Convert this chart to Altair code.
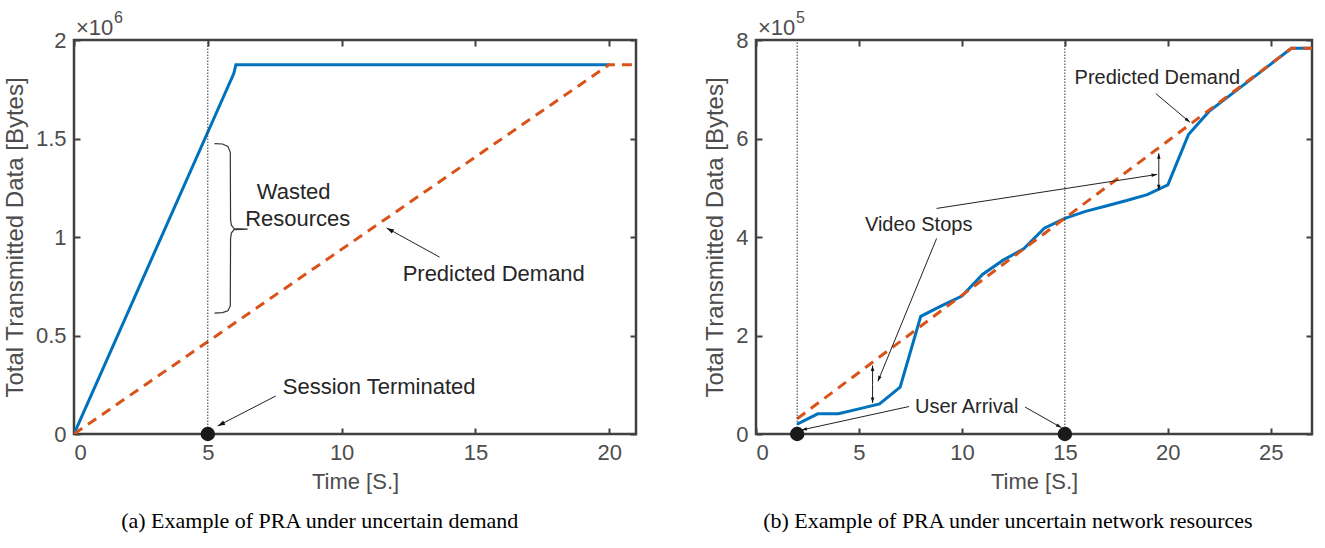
import math
import altair as alt
import pandas as pd

# ---------------- data ----------------
# (a) uncertain demand
a_time = [0, 5.97, 6.05, 20]
a_sent = [0, 1.83e6, 1.875e6, 1.875e6]
a_pred_time = [0, 20, 21]
a_pred = [0, 1.875e6, 1.875e6]
a_xticks = [0, 5, 10, 15, 20]
a_yticks = [0, 0.5e6, 1.0e6, 1.5e6, 2.0e6]
a_event_x = [5]

# (b) uncertain network resources
b_time = [2, 3, 4, 5, 6, 7, 8, 9, 10, 11, 12, 13, 14, 15, 16, 17, 18, 19, 20, 21, 22, 23, 24, 25, 26, 27]
b_sent = [0.20e5, 0.41e5, 0.41e5, 0.51e5, 0.61e5, 0.95e5, 2.39e5, 2.60e5, 2.80e5, 3.24e5, 3.53e5,
          3.76e5, 4.18e5, 4.38e5, 4.52e5, 4.63e5, 4.74e5, 4.86e5, 5.06e5, 6.08e5, 6.55e5, 6.87e5,
          7.19e5, 7.51e5, 7.83e5, 7.83e5]
b_pred_time = [2, 26, 27]
b_pred = [0.31e5, 7.83e5, 7.83e5]
b_xticks = [0, 5, 10, 15, 20, 25]
b_yticks = [0, 2e5, 4e5, 6e5, 8e5]
b_event_x = [2, 15]

# annotations (data coordinates)
a_text = ["Wasted", "Resources", "Predicted Demand", "Session Terminated"]
a_text_x = [8.21, 8.36, 12.28, 7.8]
a_text_y = [1.228e6, 1.091e6, 0.812e6, 0.239e6]
a_text_align = ["center", "center", "left", "left"]
a_arrow_x0 = [13.66, 7.54]
a_arrow_y0 = [0.898e6, 0.193e6]
a_arrow_x1 = [11.68, 5.37]
a_arrow_y1 = [1.046e6, 0.041e6]
a_brace_x = [5.25, 5.55, 5.75, 5.84, 5.85, 5.88, 5.98, 6.49, 5.98, 5.88, 5.85, 5.84, 5.75, 5.55, 5.25]
a_brace_y = [1.474e6, 1.472e6, 1.46e6, 1.43e6, 1.09e6, 1.06e6, 1.043e6, 1.040e6, 1.037e6, 1.02e6,
             0.99e6, 0.65e6, 0.625e6, 0.616e6, 0.614e6]

b_text = ["Predicted Demand", "Video Stops", "User Arrival"]
b_text_x = [15.47, 5.29, 7.72]
b_text_y = [7.22e5, 4.24e5, 0.548e5]
b_text_align = ["left", "left", "left"]
b_arrow_x0 = [19.42, 8.77, 8.77, 7.43, 13.06, 5.66, 5.66, 19.56, 19.56]
b_arrow_y0 = [6.91e5, 3.97e5, 4.58e5, 0.558e5, 0.548e5, 1.0e5, 1.0e5, 5.32e5, 5.32e5]
b_arrow_x1 = [21.07, 5.92, 19.47, 2.21, 14.83, 5.66, 5.66, 19.56, 19.56]
b_arrow_y1 = [6.33e5, 1.07e5, 5.27e5, 0.081e5, 0.13e5, 1.39e5, 0.63e5, 5.70e5, 4.95e5]

# ---------------- style ----------------
W1, W2, H = 562, 556, 394
FONT = "Liberation Sans"
TXT = "#262626"
LBL = "#4d4d4d"
FRAME = "#404040"
BLUE = "#0072BD"
RED = "#D95319"
HEAD = "M0,0L-0.45,1.4L0.45,1.4Z"


def heads(x0, y0, x1, y1, pxx, pxy):
    rows = []
    for a, b, c, d in zip(x0, y0, x1, y1):
        dx = (c - a) * pxx
        dy = -(d - b) * pxy
        ang = math.degrees(math.atan2(dx, -dy)) % 360
        rows.append({"x": c, "y": d, "ang": ang})
    return pd.DataFrame(rows)


def panel(W, xmax, ymax, yscale, xticks, yticks, t, s, pt, p, ev_x,
          txt, tx, ty, talign, ax0, ay0, ax1, ay1, head_size, caption, text_size, brace=None):
    xenc = alt.X("x:Q", scale=alt.Scale(domain=[0, xmax], nice=False, zero=False),
                 axis=alt.Axis(values=xticks, title="Time [S.]", gridDash=[6, H - 12, 6, 3000]))
    yenc = alt.Y("y:Q", scale=alt.Scale(domain=[0, ymax], nice=False),
                 axis=alt.Axis(values=yticks, title="Total Transmitted Data [Bytes]", titleFontSize=24,
                               labelExpr=f"datum.value/{yscale}", gridDash=[6, W - 12, 6, 3000]))
    sent = alt.Chart(pd.DataFrame({"x": t, "y": s})).mark_line(
        color=BLUE, strokeWidth=3, clip=True).encode(x=xenc, y=yenc)
    pred = alt.Chart(pd.DataFrame({"x": pt, "y": p})).mark_line(
        color=RED, strokeWidth=3, strokeDash=[10, 7], clip=True).encode(x=xenc, y=yenc)
    vlines = alt.Chart(pd.DataFrame({"x": ev_x, "y": [0] * len(ev_x), "y2": [ymax] * len(ev_x)})).mark_rule(
        color="#333333", strokeWidth=1, strokeDash=[1.5, 1.5]).encode(x=xenc, y=yenc, y2="y2:Q")
    dots = alt.Chart(pd.DataFrame({"x": ev_x, "y": [0] * len(ev_x)})).mark_circle(
        size=210, color="#1a1a1a", opacity=1).encode(x=xenc, y=yenc)
    arrows = alt.Chart(pd.DataFrame({"x": ax0, "y": ay0, "x2": ax1, "y2": ay1})).mark_rule(
        color="#222222", strokeWidth=1).encode(x=xenc, y=yenc, x2="x2:Q", y2="y2:Q")
    hd = alt.Chart(heads(ax0, ay0, ax1, ay1, W / xmax, H / ymax)).mark_point(
        shape=HEAD, filled=True, size=head_size, color="#111111", opacity=1).encode(
        x=xenc, y=yenc, angle=alt.Angle("ang:Q", scale=None))
    expo = alt.Chart(pd.DataFrame({"x": [0], "y": [ymax]})).mark_text(
        font=FONT, fontSize=22, color=LBL, align="left", baseline="alphabetic", dx=2, dy=-5).encode(
        x=xenc, y=yenc, text=alt.value("×10"))
    expo_p = alt.Chart(pd.DataFrame({"x": [0], "y": [ymax]})).mark_text(
        font=FONT, fontSize=16, color=LBL, align="left", baseline="alphabetic", dx=40, dy=-17).encode(
        x=xenc, y=yenc, text=alt.value(str(int(round(math.log10(yscale))))))
    layers = [sent, pred, vlines, dots, arrows, hd, expo, expo_p]
    df_t = pd.DataFrame({"x": tx, "y": ty, "t": txt, "al": talign})
    for al in ["left", "center"]:
        sub = df_t[df_t["al"] == al]
        if len(sub):
            layers.append(alt.Chart(sub).mark_text(
                font=FONT, fontSize=text_size, color=TXT, baseline="middle", align=al).encode(
                x=xenc, y=yenc, text="t:N"))
    if brace is not None:
        bx, by = brace
        layers.append(alt.Chart(pd.DataFrame({"x": bx, "y": by, "o": list(range(len(bx)))})).mark_line(
            color="#333333", strokeWidth=1.2).encode(x=xenc, y=yenc, order="o:Q"))
    return alt.layer(*layers).properties(
        width=W, height=H,
        title=alt.TitleParams(text=caption, orient="bottom", anchor="middle", frame="bounds",
                              font="Liberation Serif", fontSize=22, fontWeight="normal",
                              color="black", offset=19))


left = panel(W1, 21, 2e6, 1e6, a_xticks, a_yticks, a_time, a_sent, a_pred_time, a_pred, a_event_x,
             a_text, a_text_x, a_text_y, a_text_align, a_arrow_x0, a_arrow_y0, a_arrow_x1, a_arrow_y1,
             110, "(a) Example of PRA under uncertain demand", 22, brace=(a_brace_x, a_brace_y))
right = panel(W2, 27, 8e5, 1e5, b_xticks, b_yticks, b_time, b_sent, b_pred_time, b_pred, b_event_x,
              b_text, b_text_x, b_text_y, b_text_align, b_arrow_x0, b_arrow_y0, b_arrow_x1, b_arrow_y1,
              60, "(b) Example of PRA under uncertain network resources", 20)

chart = alt.hconcat(left, right, spacing=64).properties(
    padding={"left": 2, "top": 8, "right": 4, "bottom": 2}
).configure_view(stroke=FRAME, strokeWidth=2.5).configure_axis(
    labelFont=FONT, labelFontSize=22, labelColor=LBL, labelPadding=8,
    titleFont=FONT, titleFontSize=22, titleColor=LBL, titleFontWeight="normal", titlePadding=8,
    ticks=False, domain=False, grid=True, gridColor=FRAME, gridWidth=2, gridOpacity=1,
)

chart.save("out.html", embed_options={"renderer": "svg", "actions": False})
